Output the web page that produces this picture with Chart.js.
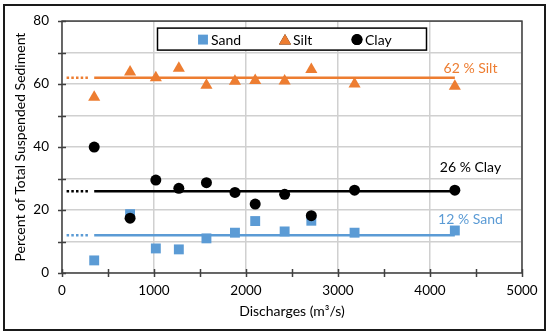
<!DOCTYPE html>
<html>
<head>
<meta charset="utf-8">
<script src="https://cdn.jsdelivr.net/npm/chart.js@4"></script>
<style>
  body { margin: 0; background: #fff; }
  #wrap { width: 550px; height: 334px; }
</style>
</head>
<body>
<div id="wrap"><canvas id="sedChart" width="550" height="334"></canvas></div>
<script>
// Datos
const discharges = [350, 740, 1020, 1270, 1570, 1880, 2100, 2420, 2710, 3180, 4270];
const sand = [4, 18.7, 7.8, 7.5, 11, 12.8, 16.5, 13.2, 16.6, 12.8, 13.5];
const silt = [55.8, 63.8, 62, 65, 59.6, 60.9, 61.1, 61, 64.6, 60, 59.3];
const clay = [40, 17.4, 29.5, 26.9, 28.7, 25.6, 21.9, 25, 18.2, 26.3, 26.3];

const seriesNames = ['Sand', 'Silt', 'Clay'];
const seriesColors = ['#5B9BD5', '#ED7D31', '#000000'];
const seriesShapes = ['rect', 'triangle', 'circle'];
const seriesRadius = [7, 7, 5.5];
const meanValues = [12, 62, 26];
const meanLabels = ['12 % Sand', '62 % Silt', '26 % Clay'];
const meanLabelY = [16.9, 65, 33.4];
const dottedRange = [50, 300];

const xTicks = [0, 1000, 2000, 3000, 4000, 5000];
const yTicks = [0, 20, 40, 60, 80];

const FONT = 'Lato, "Open Sans", sans-serif';

function pts(values) {
  return discharges.map((d, i) => ({ x: d, y: values[i] }));
}

const pointSets = [sand, silt, clay].map((vals, i) => ({
  label: seriesNames[i],
  data: pts(vals),
  pointStyle: seriesShapes[i],
  pointRadius: seriesRadius[i],
  pointHoverRadius: seriesRadius[i],
  backgroundColor: seriesColors[i],
  borderColor: seriesColors[i],
  borderWidth: 0,
  showLine: false,
  order: 3 - i
}));

const lineSets = [];
meanValues.forEach((m, i) => {
  lineSets.push({
    label: seriesNames[i] + ' mean',
    data: [{ x: discharges[0], y: m }, { x: discharges[discharges.length - 1], y: m }],
    borderColor: seriesColors[i],
    borderWidth: 2.5,
    pointRadius: 0,
    showLine: true,
    order: 10
  });
  lineSets.push({
    label: seriesNames[i] + ' dotted',
    data: [{ x: dottedRange[0], y: m }, { x: dottedRange[1], y: m }],
    borderColor: seriesColors[i],
    borderWidth: 2.5,
    borderDash: [2.5, 2.2],
    pointRadius: 0,
    showLine: true,
    order: 10
  });
});

// Marco del gráfico, marcas de ejes, leyenda y etiquetas de media
const decorations = {
  id: 'decorations',
  beforeDatasetsDraw(chart) {
    const ctx = chart.ctx;
    const area = chart.chartArea;
    const xs = chart.scales.x;
    const ys = chart.scales.y;
    ctx.save();
    // marcas que cruzan los ejes
    ctx.strokeStyle = '#404040';
    ctx.lineWidth = 1.5;
    ctx.beginPath();
    xs.ticks.forEach(t => {
      const px = Math.round(xs.getPixelForValue(t.value)) + 0.5;
      ctx.moveTo(px, area.bottom - 4);
      ctx.lineTo(px, area.bottom + 4);
    });
    ys.ticks.forEach(t => {
      const py = Math.round(ys.getPixelForValue(t.value)) + 0.5;
      ctx.moveTo(area.left - 4, py);
      ctx.lineTo(area.left + 4, py);
    });
    ctx.stroke();
    ctx.strokeRect(area.left, area.top, area.right - area.left, area.bottom - area.top);

    // leyenda
    const cx = (area.left + area.right) / 2;
    const lw = 269, lh = 22;
    const lx = cx - lw / 2, ly = area.top + 7;
    ctx.fillStyle = '#fff';
    ctx.fillRect(lx, ly, lw, lh);
    ctx.strokeStyle = '#000';
    ctx.lineWidth = 1.5;
    ctx.strokeRect(lx, ly, lw, lh);
    const markerX = [cx - 89, cx - 7, cx + 65];
    const markerDy = [0.5, 2, 0.5];
    ctx.font = '14px ' + FONT;
    ctx.textBaseline = 'middle';
    seriesNames.forEach((name, i) => {
      Chart.helpers.drawPoint(ctx, {
        pointStyle: seriesShapes[i],
        radius: seriesRadius[i],
        rotation: 0,
        borderWidth: 0
      }, markerX[i], ly + lh / 2 + markerDy[i]);
      ctx.fillStyle = seriesColors[i];
      ctx.fill();
      ctx.fillStyle = '#000';
      ctx.fillText(name, markerX[i] + 8, ly + lh / 2 + 1);
    });

    // etiquetas de media
    ctx.font = '14px ' + FONT;
    ctx.textAlign = 'center';
    meanLabels.forEach((txt, i) => {
      ctx.fillStyle = seriesColors[i];
      ctx.fillText(txt, xs.getPixelForValue(4440), ys.getPixelForValue(meanLabelY[i]));
    });
    ctx.restore();
  },
  afterDraw(chart) {
    const ctx = chart.ctx;
    ctx.save();
    ctx.strokeStyle = '#1a1a1a';
    ctx.lineWidth = 2;
    ctx.strokeRect(4, 5, 541, 325);
    ctx.restore();
  }
};

const ctx = document.getElementById('sedChart').getContext('2d');
new Chart(ctx, {
  type: 'scatter',
  data: { datasets: pointSets.concat(lineSets) },
  options: {
    responsive: false,
    animation: false,
    layout: { padding: { left: 0, top: 19, right: 28, bottom: 0 } },
    plugins: {
      legend: { display: false },
      tooltip: { enabled: false }
    },
    scales: {
      x: {
        type: 'linear',
        min: 0,
        max: 5000,
        afterFit(scale) { scale.height = 61; },
        afterBuildTicks(scale) {
          scale.ticks = [];
          for (let v = 0; v <= 5000; v += 500) scale.ticks.push({ value: v });
        },
        ticks: {
          padding: 10,
          color: '#000',
          font: { family: FONT, size: 13.5 },
          maxRotation: 0,
          autoSkip: false,
          callback: v => xTicks.includes(v) ? v : ''
        },
        grid: {
          drawTicks: false,
          color: c => (c.tick && xTicks.includes(c.tick.value)) ? '#d0d0d0' : 'rgba(0,0,0,0)',
          lineWidth: 1.5
        },
        border: { display: false },
        title: {
          display: true,
          text: 'Discharges (m³/s)',
          color: '#000',
          font: { family: FONT, size: 14 },
          padding: { top: 0, bottom: 14 }
        }
      },
      y: {
        min: 0,
        max: 80,
        afterFit(scale) { scale.width = 62; },
        ticks: {
          stepSize: 10,
          padding: 13,
          color: '#000',
          font: { family: FONT, size: 13.5 },
          callback: v => yTicks.includes(v) ? v : ''
        },
        grid: { drawTicks: false, color: '#d0d0d0', lineWidth: 1.5 },
        border: { display: false },
        title: {
          display: true,
          text: 'Percent of Total Suspended Sediment',
          color: '#000',
          font: { family: FONT, size: 14 },
          padding: { top: 12, bottom: 0 }
        }
      }
    }
  },
  plugins: [decorations]
});
</script>
</body>
</html>
